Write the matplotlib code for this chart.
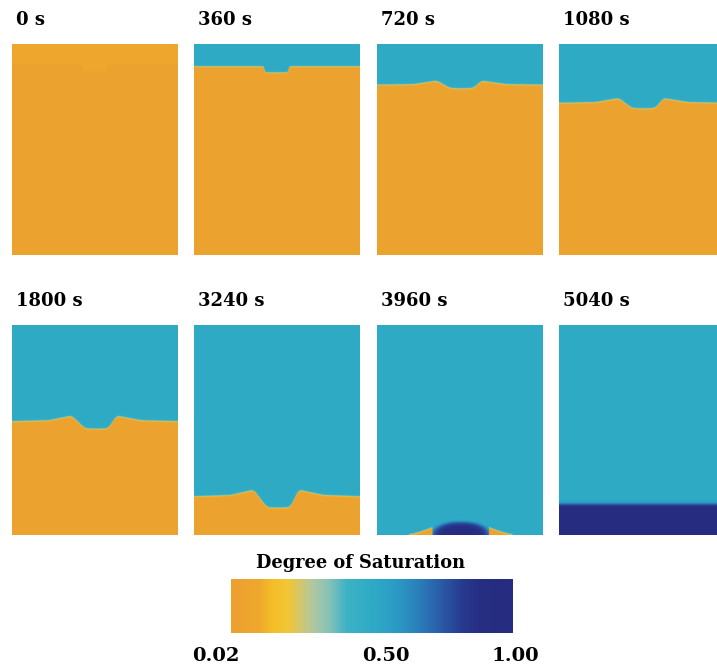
import numpy as np
import matplotlib
matplotlib.use("Agg")
import matplotlib.pyplot as plt
from matplotlib.colors import LinearSegmentedColormap, Normalize

# ---- data -------------------------------------------------------------
times = ["0 s", "360 s", "720 s", "1080 s", "1800 s", "3240 s", "3960 s", "5040 s"]

# degree of saturation of the dry soil, of the infiltrated zone,
# of the initial surface layer and of the saturated zone
s_dry = 0.05
s_wet = 0.50
s_surface = 0.10
s_sat = 0.97

# wetting front (depth as a fraction of the column height) at 0 s and 360 s
notch_x = [0.00, 0.420, 0.430, 0.565, 0.575, 1.00]
front_0 = [0.095, 0.095, 0.128, 0.128, 0.095, 0.095]
front_360 = [0.107, 0.107, 0.136, 0.136, 0.107, 0.107]

# wetting front for the later stages (same horizontal break points)
front_x = [0.00, 0.22, 0.36, 0.44, 0.51, 0.58, 0.63, 0.78, 1.00]
front_720 = [0.194, 0.192, 0.175, 0.210, 0.212, 0.210, 0.175, 0.192, 0.194]
front_1080 = [0.280, 0.277, 0.258, 0.305, 0.307, 0.305, 0.258, 0.277, 0.280]
front_1800 = [0.462, 0.458, 0.436, 0.496, 0.498, 0.496, 0.436, 0.458, 0.462]
front_3240 = [0.818, 0.812, 0.787, 0.870, 0.872, 0.870, 0.787, 0.812, 0.818]

# 3960 s: saturated mound at the base and the last dry wedges
mound_center = 0.505
mound_half_width = 0.18
mound_height = 0.066
wedge_spans = [(0.17, 0.335), (0.84, 0.675)]
wedge_height = 0.036

# 5040 s: depth of the top of the saturated layer
sat_layer_top = 0.852

cbar_ticks = [0.02, 0.50, 1.00]
cbar_label = "Degree of Saturation"

# ---- colour map ---------------------------------------------------------
cmap = LinearSegmentedColormap.from_list("saturation", [
    (0.00, "#eca02f"), (0.10, "#efa82d"), (0.14, "#f4bd28"), (0.20, "#f1c634"),
    (0.24, "#d6c766"), (0.29, "#b0c8a2"), (0.35, "#82c2b8"), (0.41, "#3db2c6"),
    (0.50, "#2eaac5"), (0.58, "#2b9dc5"), (0.66, "#2a82bd"), (0.74, "#2a5ea9"),
    (0.82, "#283b91"), (0.88, "#262f83"), (1.00, "#262c80"),
])
norm = Normalize(vmin=cbar_ticks[0], vmax=cbar_ticks[-1])

# ---- field construction -------------------------------------------------
NX, NY = 332, 422
xg = (np.arange(NX) + 0.5) / NX
dg = (np.arange(NY) + 0.5) / NY
X, D = np.meshgrid(xg, dg)
edge = 0.004


def smooth(profile, width=9):
    if width <= 1:
        return profile
    k = np.ones(width) / width
    padded = np.pad(profile, width // 2, mode="edge")
    out = np.convolve(padded, k, mode="valid")
    return np.convolve(np.pad(out, width // 2, mode="edge"), k, mode="valid")


def front_field(xs, depths, top, bottom, rounding=9):
    prof = smooth(np.interp(xg, xs, depths), rounding)
    step = 0.5 * (1 + np.tanh((D - prof[None, :]) / edge))
    return top + (bottom - top) * step


def field_3960():
    f = np.full_like(X, s_wet)
    r = (np.abs((X - mound_center) / mound_half_width) ** 2.3 +
         np.abs((D - 1.0) / mound_height) ** 2) ** 0.5
    inside = 0.5 * (1 + np.tanh((1 - r) / 0.12))
    val = s_sat - 0.25 * r ** 2
    f = f + (val - f) * inside
    for x0, x1 in wedge_spans:
        t = np.clip((X - x0) / (x1 - x0), 0, 1) ** 1.5
        t[(X < min(x0, x1)) | (X > max(x0, x1))] = 0
        h = wedge_height * t
        w = 0.5 * (1 + np.tanh((D - (1 - h)) / edge)) * (h > 0.002)
        f = f + (s_dry - f) * w
    return f


def field_5040():
    step = 0.5 * (1 + np.tanh((D - sat_layer_top) / 0.012))
    deep = s_sat - 0.08 * np.exp(-(D - sat_layer_top) / 0.03).clip(0, 1)
    return s_wet + (deep - s_wet) * step


fields = [
    front_field(notch_x, front_0, s_surface, s_dry, rounding=1),
    front_field(notch_x, front_360, s_wet, s_dry, rounding=3),
    front_field(front_x, front_720, s_wet, s_dry),
    front_field(front_x, front_1080, s_wet, s_dry),
    front_field(front_x, front_1800, s_wet, s_dry),
    front_field(front_x, front_3240, s_wet, s_dry),
    field_3960(),
    field_5040(),
]

# ---- figure -------------------------------------------------------------
W, H = 717, 669
fig = plt.figure(figsize=(W / 100, H / 100), dpi=100)
font = dict(family="DejaVu Serif", weight="bold")

col_left = [12 + 182.3 * c for c in range(4)]
row_top = [44, 325]
row_h = [211, 210]
panel_w = 166

for i, (label, f) in enumerate(zip(times, fields)):
    r, c = divmod(i, 4)
    left, top, h = col_left[c], row_top[r], row_h[r]
    ax = fig.add_axes([left / W, 1 - (top + h) / H, panel_w / W, h / H])
    ax.imshow(f, cmap=cmap, norm=norm, aspect="auto", interpolation="bilinear",
              extent=(0, 1, 1, 0))
    ax.set_axis_off()
    fig.text((left + 4) / W, 1 - (top - 24) / H, label, ha="left", va="center",
             fontsize=13, **font)

# colour bar
cx0, cx1, cy0, cy1 = 231, 513, 579, 633
cax = fig.add_axes([cx0 / W, 1 - cy1 / H, (cx1 - cx0) / W, (cy1 - cy0) / H])
grad = np.linspace(cbar_ticks[0], cbar_ticks[-1], 400)[None, :]
cax.imshow(grad, cmap=cmap, norm=norm, aspect="auto", extent=(0, 1, 0, 1))
cax.set_xlim(0, 1)
cax.set_ylim(0, 1)
cax.set_axis_off()
fig.text(361 / W, 1 - 563 / H, cbar_label, ha="center", va="center",
         fontsize=12.8, **font)
tick_pos = [-0.053, 0.55, 1.01]
for v, p in zip(cbar_ticks, tick_pos):
    cax.text(p, -0.42, f"{v:.2f}", transform=cax.transAxes, ha="center",
             va="center", fontsize=14, **font)

fig.savefig("out.png", dpi=100)
